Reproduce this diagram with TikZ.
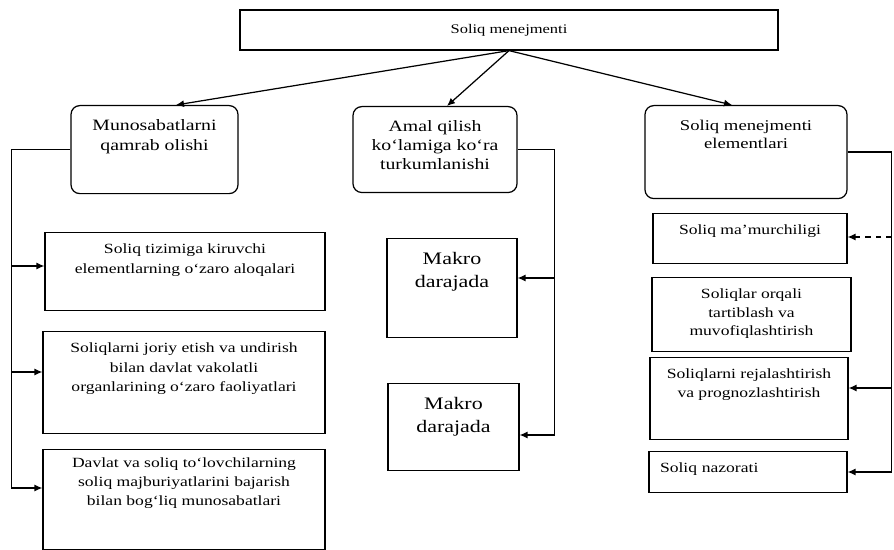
\documentclass[tikz,border=0pt]{standalone}
\usepackage{fontspec}
\setmainfont{Liberation Serif}[FakeStretch=1.25]
\usetikzlibrary{arrows.meta, positioning, calc}

\begin{document}
\begin{tikzpicture}[
  x=0.02cm, y=-0.02cm,
  line width=0.7pt,
  head/.style = {draw, rounded corners=5pt, align=center, anchor=north,
    inner ysep=5pt, font=\fontsize{9}{11.5}\selectfont},
  cell/.style = {draw, align=center, anchor=north, inner ysep=4pt,
    font=\fontsize{8}{11}\selectfont},
  level/.style = {draw, align=center, anchor=north, inner ysep=5pt,
    font=\fontsize{10}{13}\selectfont},
  arrow/.style = {-{Latex[length=1.6mm, width=1.4mm]}}
]
\useasboundingbox (0,0) rectangle (894,550);

% Top block
\node[draw, minimum width=10.76cm, minimum height=0.8cm,
  font=\fontsize{7.5}{9}\selectfont] (top) at (509,30) {Soliq menejmenti};

% Headers
\node[head, minimum width=3.34cm, text height=20.5pt, text depth=19.6pt]
  (qamrov) at (154.5,105) {Munosabatlarni\\qamrab olishi};
\node[head, minimum width=3.28cm, text height=31pt, text depth=7.9pt,
  font=\fontsize{9}{11}\selectfont] (amal) at (435,106)
  {Amal qilish\\ko`lamiga ko`ra\\turkumlanishi};
\node[head, minimum width=4.04cm, text height=19.5pt, text depth=23.4pt,
  font=\fontsize{8.5}{10.5}\selectfont] (rhead) at (746,105)
  {Soliq menejmenti\\elementlari};

\draw[arrow] (top.south) -- ([xshift=0.43cm]qamrov.north);
\draw[arrow] (top.south) -- ([xshift=0.24cm]amal.north);
\draw[arrow] (top.south) -- ([xshift=-0.28cm]rhead.north);

% Left column
\node[cell, minimum width=5.6cm, text height=19pt, text depth=17.4pt]
  (l1) at (185,232)
  {Soliq tizimiga kiruvchi\\elementlarning o`zaro aloqalari};
\node[cell, minimum width=5.64cm, text height=30pt, text depth=20pt]
  (l2) at (184,331)
  {Soliqlarni joriy etish va undirish\\bilan davlat vakolatli\\organlarining o`zaro faoliyatlari};
\node[cell, minimum width=5.64cm, inner ysep=2pt, text height=30pt, text depth=22.9pt]
  (l3) at (184,449)
  {Davlat va soliq to`lovchilarning\\soliq majburiyatlarini bajarish\\bilan bog`liq munosabatlari};

\draw (qamrov.west) -- ++(-59,0) coordinate (lspine);
\foreach \b/\y in {l1/266, l2/372, l3/488}
  \draw[arrow] (lspine) |- (\b.west |- 0,\y);

% Middle column
\node[level, minimum width=2.6cm, text height=23pt, text depth=23.3pt]
  (m1) at (452,238) {Makro\\darajada};
\node[level, minimum width=2.62cm, text height=23pt, text depth=16.5pt]
  (m2) at (453.5,383) {Makro\\darajada};

\draw (amal.east) -- ++(37,0) coordinate (mspine);
\foreach \b/\y in {m1/278, m2/435}
  \draw[arrow] (mspine) |- (\b.east |- 0,\y);

% Right column
\node[cell, minimum width=3.88cm, text height=8pt, text depth=12.5pt]
  (r1) at (750,213) {Soliq ma'murchiligi};
\node[cell, minimum width=3.98cm, text height=29pt, text depth=5.1pt,
  font=\fontsize{8}{10.5}\selectfont] (r2) at (751.5,277)
  {Soliqlar orqali\\tartiblash va\\muvofiqlashtirish};
\node[cell, minimum width=3.96cm, text height=18.5pt, text depth=20.2pt,
  font=\fontsize{8}{10.5}\selectfont] (r3) at (749,357)
  {Soliqlarni rejalashtirish\\va prognozlashtirish};
\node[cell, align=left, text width=3.52cm, inner xsep=0.22cm,
  text height=8pt, text depth=7.3pt] (r4) at (748,451) {Soliq nazorati};

\draw (rhead.east) -- ++(44,0) coordinate (rspine);
\draw[arrow, dashed] (rspine |- 0,237) -- (r1.east |- 0,237);
\foreach \b/\y in {r3/388, r4/472}
  \draw[arrow] (rspine) |- (\b.east |- 0,\y);

\end{tikzpicture}
\end{document}
